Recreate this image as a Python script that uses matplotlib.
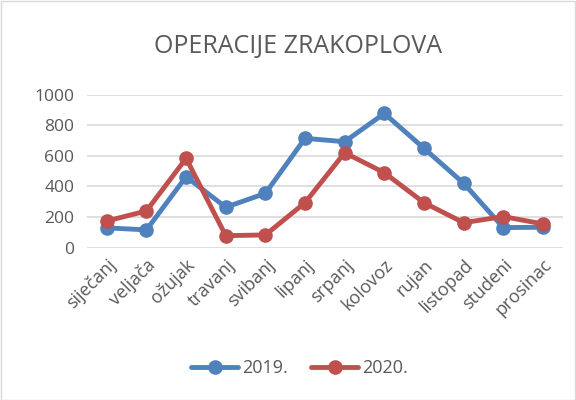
import matplotlib
matplotlib.use("Agg")
import matplotlib.pyplot as plt
from matplotlib.patches import Rectangle

months = ["siječanj", "veljača", "ožujak", "travanj", "svibanj", "lipanj",
          "srpanj", "kolovoz", "rujan", "listopad", "studeni", "prosinac"]
v2019 = [129, 116, 464, 264, 355, 715, 693, 878, 650, 421, 131, 133]
v2020 = [174, 240, 584, 78, 83, 294, 621, 490, 294, 163, 203, 155]
yticks = [0, 200, 400, 600, 800, 1000]

plt.rcParams['font.family'] = ['Open Sans', 'DejaVu Sans']
fig = plt.figure(figsize=(5.76, 4.0), dpi=100)
fig.patches.append(Rectangle((0.001, 0.001), 0.997, 0.997, transform=fig.transFigure,
                             fill=False, edgecolor='#D9D9D9', linewidth=1))
ax = fig.add_axes([0.151, 0.381, 0.826, 0.382])
x = list(range(len(months)))
ax.plot(x, v2019, color='#4F81BD', lw=3.5, marker='o', ms=9.5, label='2019.', zorder=3,
        solid_capstyle='round')
ax.plot(x, v2020, color='#C0504D', lw=3.5, marker='o', ms=9.5, label='2020.', zorder=3,
        solid_capstyle='round')
ax.set_xlim(-0.5, 11.5)
ax.set_ylim(0, 1000)
ax.set_yticks(yticks)
ax.set_yticklabels([str(t) for t in yticks], fontsize=12.5, color='#595959')
ax.set_xticks(x)
ax.set_xticklabels(months, rotation=45, ha='right', rotation_mode='anchor',
                   fontsize=13, color='#595959')
ax.tick_params(length=0, pad=9)
ax.tick_params(axis='x', pad=6)
for s in ax.spines.values():
    s.set_visible(False)
ax.grid(axis='y', color='#D9D9D9', lw=1.2)
ax.set_axisbelow(True)
fig.text(0.517, 0.885, "OPERACIJE ZRAKOPLOVA", ha='center', va='center', fontsize=18,
         color='#595959')
fig.legend(loc='center', bbox_to_anchor=(0.52, 0.08), ncol=2, frameon=False,
           fontsize=13, labelcolor='#595959', handlelength=2.6, columnspacing=1.3,
           handletextpad=0.2)
fig.savefig("out.png", dpi=100)
